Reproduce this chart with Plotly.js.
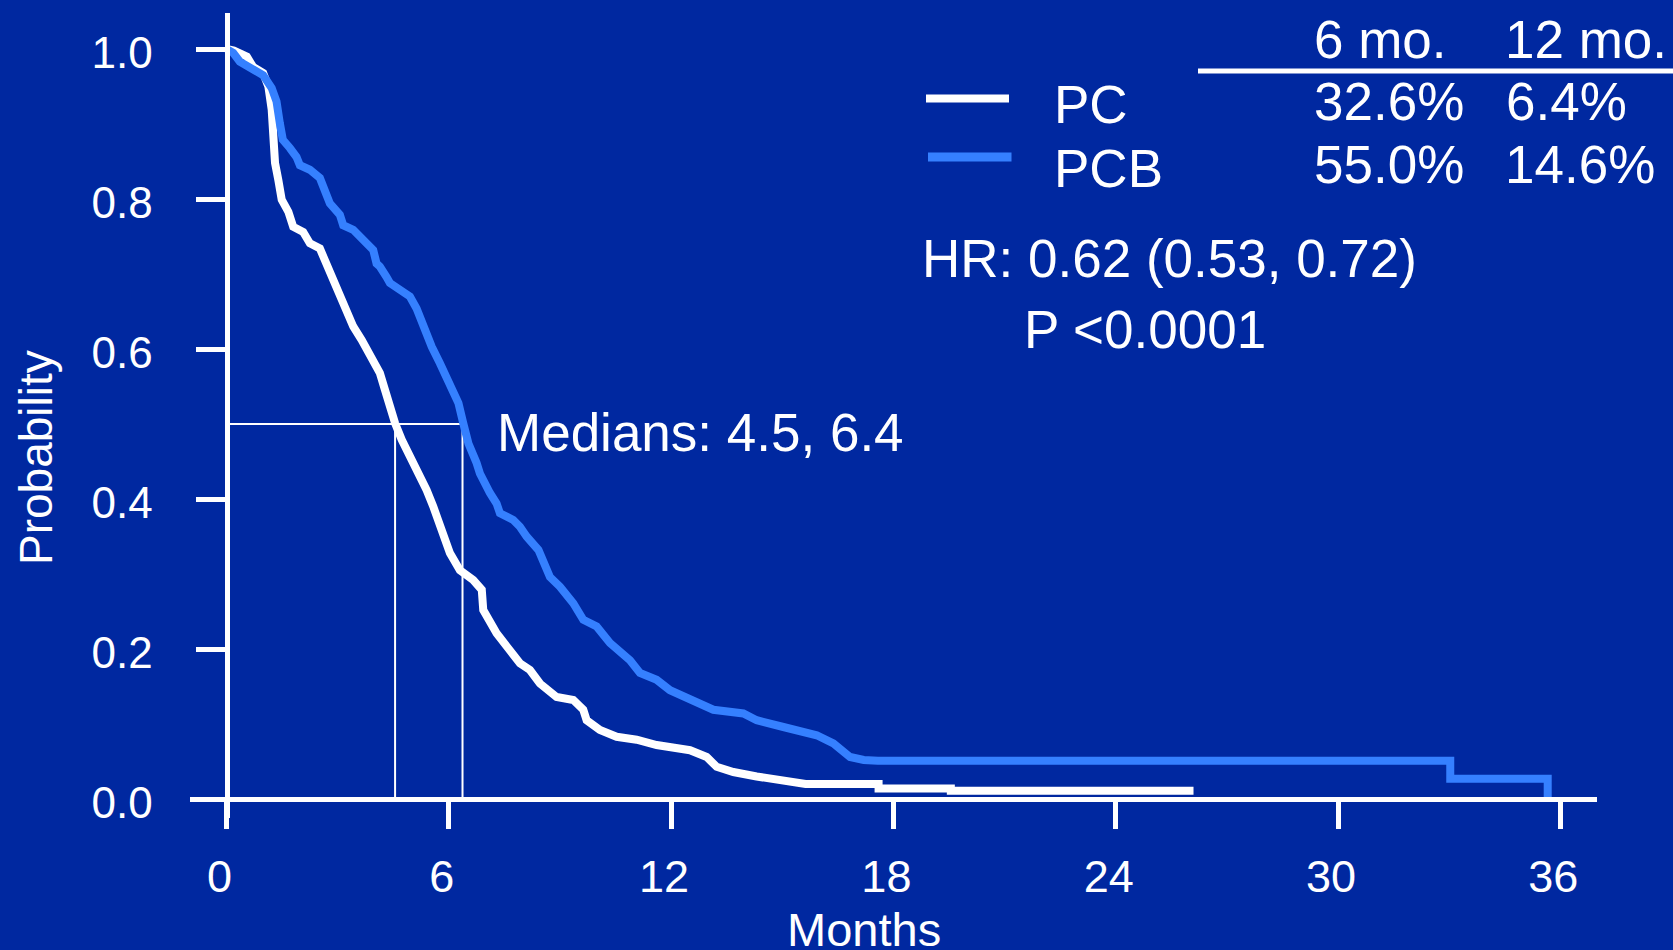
<!DOCTYPE html>
<html>
<head>
<meta charset="utf-8">
<script src="https://cdn.plot.ly/plotly-3.0.1.min.js"></script>
<style>
  html, body { margin: 0; padding: 0; background: #0028A0; }
  #chart { width: 1673px; height: 950px; }
</style>
</head>
<body>
<div id="chart"></div>
<script>
// ---------------- data ----------------
const monthsPC = [0, 0.2, 0.55, 0.72, 0.99, 1.13, 1.22, 1.26, 1.31, 1.40, 1.49, 1.67, 1.80, 2.07, 2.25, 2.52, 2.70, 2.84, 3.06, 3.24, 3.42, 3.65, 3.87, 4.14, 4.28, 4.41, 4.55, 4.73, 4.95, 5.22, 5.40, 5.58, 5.76, 5.94, 6.03, 6.30, 6.66, 6.89, 6.93, 7.29, 7.65, 7.92, 8.19, 8.46, 8.91, 9.36, 9.63, 9.72, 10.08, 10.53, 11.07, 11.61, 12.51, 12.96, 13.23, 13.68, 14.31, 15.03, 15.50, 15.63, 17.60, 17.60, 19.55, 19.55, 26.10];
const survPC   = [1.000, 0.998, 0.990, 0.976, 0.968, 0.950, 0.919, 0.883, 0.848, 0.825, 0.799, 0.783, 0.763, 0.756, 0.741, 0.734, 0.714, 0.696, 0.674, 0.656, 0.630, 0.612, 0.590, 0.568, 0.545, 0.523, 0.501, 0.479, 0.456, 0.434, 0.412, 0.390, 0.363, 0.336, 0.328, 0.305, 0.292, 0.279, 0.252, 0.221, 0.199, 0.181, 0.172, 0.154, 0.136, 0.132, 0.119, 0.105, 0.092, 0.083, 0.079, 0.072, 0.065, 0.056, 0.043, 0.036, 0.030, 0.025, 0.023, 0.020, 0.020, 0.014, 0.014, 0.011, 0.011];

const monthsPCB = [0, 0.18, 0.36, 0.72, 0.99, 1.22, 1.35, 1.44, 1.52, 1.71, 1.89, 1.98, 2.25, 2.52, 2.66, 2.79, 3.06, 3.15, 3.42, 3.87, 3.96, 4.05, 4.14, 4.32, 4.41, 4.68, 4.86, 4.95, 5.13, 5.31, 5.54, 5.76, 6.03, 6.26, 6.39, 6.53, 6.75, 6.84, 7.11, 7.29, 7.38, 7.74, 7.92, 8.10, 8.42, 8.73, 9.00, 9.36, 9.63, 9.99, 10.35, 10.89, 11.16, 11.61, 11.97, 12.51, 13.14, 13.95, 14.31, 15.03, 15.57, 15.93, 16.38, 16.83, 17.20, 17.58, 33.03, 33.03, 35.66, 35.66];
const survPCB   = [1.000, 0.995, 0.983, 0.972, 0.965, 0.948, 0.930, 0.901, 0.879, 0.868, 0.856, 0.845, 0.839, 0.828, 0.812, 0.794, 0.779, 0.765, 0.759, 0.736, 0.732, 0.714, 0.710, 0.696, 0.688, 0.679, 0.674, 0.670, 0.654, 0.630, 0.603, 0.581, 0.554, 0.528, 0.501, 0.474, 0.448, 0.434, 0.408, 0.394, 0.381, 0.372, 0.363, 0.350, 0.332, 0.296, 0.283, 0.261, 0.239, 0.230, 0.208, 0.185, 0.168, 0.159, 0.145, 0.132, 0.119, 0.114, 0.105, 0.096, 0.088, 0.085, 0.074, 0.056, 0.052, 0.051, 0.051, 0.027, 0.027, 0.000];

const medianMonths = [4.55, 6.37];
const medianSurv = 0.5;
const medianText = 'Medians: 4.5, 6.4';

const xTicks = [0, 6, 12, 18, 24, 30, 36];
const yTicks = [0, 0.2, 0.4, 0.6, 0.8, 1.0];
const yTickText = ['0.0', '0.2', '0.4', '0.6', '0.8', '1.0'];

const groups = ['PC', 'PCB'];
const tableCols = ['6 mo.', '12 mo.'];
const surv6 = ['32.6%', '55.0%'];
const surv12 = ['6.4%', '14.6%'];
const hrText = 'HR: 0.62 (0.53, 0.72)';
const pText = 'P <0.0001';

// ---------------- styling / layout ----------------
const BG = '#0028A0';
const WHITE = '#FFFFFF';
const BLUE = '#3580FF';
const FONT = '"Liberation Sans", Arial, Helvetica, sans-serif';
const colors = [WHITE, BLUE];

const W = 1673, H = 950;
const L = 190, R = 1597, T = 13, B = 818;
const PW = R - L, PH = B - T;
const px = x => (x - L) / PW;       // pixel -> paper x
const py = y => (B - y) / PH;       // pixel -> paper y

// axis ranges so that month 0 sits at x=226.5 px and prob 0 at y=799 px
const x0px = 226.5, pxPerMonth = 37.05;
const y0px = 799, pxPerUnit = 750;
const xRange = [(L - x0px) / pxPerMonth, (R - x0px) / pxPerMonth];
const yRange = [(y0px - B) / pxPerUnit, (y0px - T) / pxPerUnit];

const traces = [
  { x: [0, medianMonths[1]], y: [medianSurv, medianSurv], mode: 'lines',
    line: { color: WHITE, width: 2 }, hoverinfo: 'skip', showlegend: false },
  { x: [medianMonths[0], medianMonths[0]], y: [medianSurv, 0], mode: 'lines',
    line: { color: WHITE, width: 2 }, hoverinfo: 'skip', showlegend: false },
  { x: [medianMonths[1], medianMonths[1]], y: [medianSurv, 0], mode: 'lines',
    line: { color: WHITE, width: 2 }, hoverinfo: 'skip', showlegend: false },
  { x: monthsPC, y: survPC, name: groups[0], mode: 'lines',
    line: { color: colors[0], width: 8 }, showlegend: false },
  { x: monthsPCB, y: survPCB, name: groups[1], mode: 'lines',
    line: { color: colors[1], width: 8 }, showlegend: false }
];

function txt(text, x, y, size, extra) {
  return Object.assign({
    text: text, xref: 'paper', yref: 'paper', x: px(x), y: py(y),
    xanchor: 'left', yanchor: 'middle', showarrow: false, borderpad: 0,
    font: { family: FONT, size: size, color: WHITE }
  }, extra || {});
}

const annotations = [
  txt(tableCols[0], 1312.8, 39.2, 53),
  txt(tableCols[1], 1504.2, 39.2, 53),
  txt(groups[0], 1052.5, 104.2, 53),
  txt(groups[1], 1052.5, 168.3, 53),
  txt(surv6[0], 1312.7, 101.7, 53),
  txt(surv12[0], 1504.5, 101.7, 53),
  txt(surv6[1], 1312.6, 165.0, 53),
  txt(surv12[1], 1504.2, 165.0, 53),
  txt(hrText, 920.8, 258, 53),
  txt(pText, 1022.5, 329.7, 53),
  txt(medianText, 496, 432.5, 53),
  txt('Months', 864, 929.5, 47, { xanchor: 'center' }),
  txt('Probability', 36, 458, 46, { xanchor: 'center', textangle: -90 })
];

const shapes = [
  // legend samples
  { type: 'line', xref: 'paper', yref: 'paper', x0: px(926), x1: px(1009), y0: py(98.5), y1: py(98.5),
    line: { color: colors[0], width: 8 } },
  { type: 'line', xref: 'paper', yref: 'paper', x0: px(928), x1: px(1011.5), y0: py(157), y1: py(157),
    line: { color: colors[1], width: 9 } },
  // table rule
  { type: 'line', xref: 'paper', yref: 'paper', x0: px(1198), x1: px(1673), y0: py(71), y1: py(71),
    line: { color: WHITE, width: 5 } }
];

const layout = {
  width: W, height: H,
  margin: { l: L, r: W - R, t: T, b: H - B, pad: 0 },
  paper_bgcolor: BG, plot_bgcolor: BG,
  showlegend: false,
  font: { family: FONT, color: WHITE },
  xaxis: {
    range: xRange, domain: [0, 1], anchor: 'free', position: py(y0px),
    showline: true, linecolor: WHITE, linewidth: 5,
    ticks: 'outside', ticklen: 27, tickwidth: 5, tickcolor: WHITE,
    tickmode: 'array', tickvals: xTicks, ticktext: xTicks.map(String),
    tickfont: { family: FONT, size: 45, color: WHITE },
    ticklabelshift: -7, ticklabelstandoff: 9,
    showgrid: false, zeroline: false, automargin: false, fixedrange: true
  },
  yaxis: {
    range: yRange, domain: [0, 1], anchor: 'free', position: px(x0px),
    showline: true, linecolor: WHITE, linewidth: 5,
    ticks: 'outside', ticklen: 29, tickwidth: 5, tickcolor: WHITE,
    tickmode: 'array', tickvals: yTicks, ticktext: yTickText,
    tickfont: { family: FONT, size: 44, color: WHITE },
    ticklabelshift: 4, ticklabelstandoff: 34,
    showgrid: false, zeroline: false, automargin: false, fixedrange: true
  },
  annotations: annotations,
  shapes: shapes
};

Plotly.newPlot('chart', traces, layout, { staticPlot: true, displayModeBar: false });
</script>
</body>
</html>
